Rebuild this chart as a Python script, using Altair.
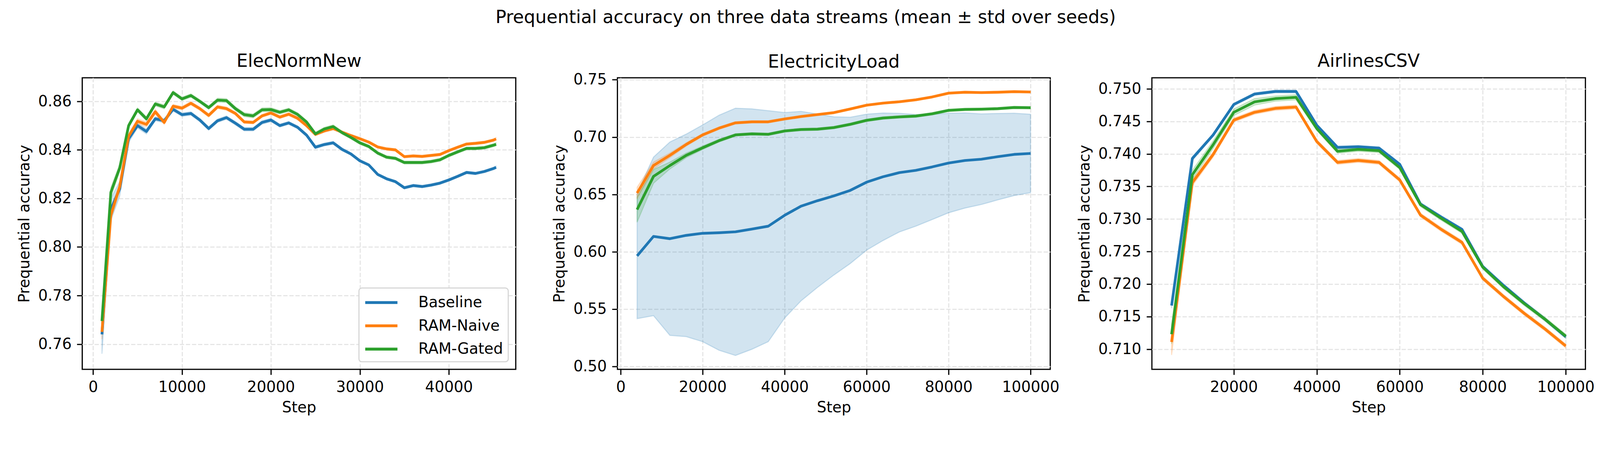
import altair as alt
import pandas as pd

methods = ["Baseline", "RAM-Naive", "RAM-Gated"]
colors = ["#1f77b4", "#ff7f0e", "#2ca02c"]
FONT = "DejaVu Sans"

# ---------------- ElecNormNew ----------------
elec_steps = [1000, 2000, 3000, 4000, 5000, 6000, 7000, 8000, 9000, 10000,
              11000, 12000, 13000, 14000, 15000, 16000, 17000, 18000, 19000, 20000,
              21000, 22000, 23000, 24000, 25000, 26000, 27000, 28000, 29000, 30000,
              31000, 32000, 33000, 34000, 35000, 36000, 37000, 38000, 39000, 40000,
              41000, 42000, 43000, 44000, 45000, 45312]
elec_base = [0.7640, 0.8155, 0.8240, 0.8446, 0.8500, 0.8476, 0.8528, 0.8520, 0.8567, 0.8545,
             0.8550, 0.8523, 0.8488, 0.8520, 0.8533, 0.8510, 0.8485, 0.8485, 0.8513, 0.8523,
             0.8500, 0.8511, 0.8493, 0.8461, 0.8411, 0.8422, 0.8429, 0.8402, 0.8383, 0.8355,
             0.8338, 0.8299, 0.8281, 0.8269, 0.8244, 0.8253, 0.8249, 0.8255, 0.8263, 0.8276,
             0.8291, 0.8307, 0.8303, 0.8311, 0.8323, 0.8328]
elec_naive = [0.7650, 0.8131, 0.8249, 0.8456, 0.8518, 0.8505, 0.8557, 0.8513, 0.8580, 0.8572,
              0.8592, 0.8570, 0.8542, 0.8577, 0.8570, 0.8550, 0.8515, 0.8513, 0.8540, 0.8552,
              0.8535, 0.8547, 0.8530, 0.8500, 0.8464, 0.8478, 0.8488, 0.8473, 0.8459, 0.8446,
              0.8432, 0.8412, 0.8404, 0.8400, 0.8372, 0.8375, 0.8373, 0.8377, 0.8381, 0.8397,
              0.8411, 0.8424, 0.8427, 0.8431, 0.8440, 0.8445]
elec_gated = [0.7695, 0.8225, 0.8326, 0.8500, 0.8565, 0.8528, 0.8589, 0.8577, 0.8636, 0.8610,
              0.8624, 0.8600, 0.8574, 0.8605, 0.8603, 0.8570, 0.8545, 0.8540, 0.8565, 0.8566,
              0.8555, 0.8565, 0.8546, 0.8515, 0.8466, 0.8486, 0.8496, 0.8471, 0.8451, 0.8429,
              0.8414, 0.8387, 0.8370, 0.8365, 0.8348, 0.8348, 0.8348, 0.8352, 0.8359, 0.8377,
              0.8392, 0.8406, 0.8406, 0.8409, 0.8419, 0.8423]
elec_base_sd = [0.0080, 0.0045, 0.0030, 0.0015, 0.0010, 0.0010, 0.0008, 0.0008, 0.0007, 0.0007,
                0.0007, 0.0007, 0.0007, 0.0007, 0.0007, 0.0007, 0.0007, 0.0007, 0.0007, 0.0007,
                0.0006, 0.0006, 0.0006, 0.0006, 0.0006, 0.0006, 0.0006, 0.0006, 0.0005, 0.0005,
                0.0005, 0.0005, 0.0005, 0.0005, 0.0005, 0.0005, 0.0005, 0.0005, 0.0005, 0.0005,
                0.0005, 0.0005, 0.0005, 0.0005, 0.0005, 0.0005]
elec_naive_sd = [0.0030, 0.0020, 0.0015, 0.0012, 0.0010, 0.0010, 0.0010, 0.0008, 0.0007, 0.0007,
                 0.0007, 0.0007, 0.0007, 0.0007, 0.0007, 0.0006, 0.0006, 0.0006, 0.0006, 0.0006,
                 0.0006, 0.0006, 0.0006, 0.0006, 0.0006, 0.0006, 0.0006, 0.0005, 0.0005, 0.0005,
                 0.0005, 0.0005, 0.0005, 0.0005, 0.0005, 0.0005, 0.0005, 0.0005, 0.0005, 0.0005,
                 0.0005, 0.0005, 0.0005, 0.0005, 0.0005, 0.0005]
elec_gated_sd = [0.0010, 0.0020, 0.0015, 0.0010, 0.0008, 0.0008, 0.0008, 0.0008, 0.0007, 0.0007,
                 0.0007, 0.0007, 0.0007, 0.0008, 0.0008, 0.0008, 0.0008, 0.0008, 0.0008, 0.0008,
                 0.0007, 0.0007, 0.0007, 0.0007, 0.0007, 0.0007, 0.0007, 0.0006, 0.0006, 0.0006,
                 0.0006, 0.0006, 0.0006, 0.0006, 0.0006, 0.0006, 0.0006, 0.0006, 0.0006, 0.0006,
                 0.0006, 0.0006, 0.0006, 0.0006, 0.0006, 0.0006]

# ---------------- ElectricityLoad ----------------
load_steps = [4000, 8000, 12000, 16000, 20000, 24000, 28000, 32000, 36000, 40000,
              44000, 48000, 52000, 56000, 60000, 64000, 68000, 72000, 76000, 80000,
              84000, 88000, 92000, 96000, 100000]
load_base = [0.5964, 0.6134, 0.6114, 0.6143, 0.6161, 0.6166, 0.6174, 0.6198, 0.6223, 0.6318,
             0.6398, 0.6445, 0.6487, 0.6535, 0.6607, 0.6654, 0.6690, 0.6710, 0.6740, 0.6774,
             0.6796, 0.6807, 0.6829, 0.6849, 0.6857]
load_naive = [0.6512, 0.6752, 0.6841, 0.6936, 0.7019, 0.7078, 0.7124, 0.7133, 0.7133, 0.7158,
              0.7179, 0.7196, 0.7213, 0.7245, 0.7278, 0.7296, 0.7308, 0.7325, 0.7350, 0.7383,
              0.7391, 0.7388, 0.7391, 0.7396, 0.7393]
load_gated = [0.6368, 0.6657, 0.6752, 0.6841, 0.6907, 0.6969, 0.7019, 0.7028, 0.7024, 0.7053,
              0.7066, 0.7069, 0.7083, 0.7111, 0.7146, 0.7166, 0.7176, 0.7183, 0.7203, 0.7233,
              0.7241, 0.7243, 0.7248, 0.7258, 0.7256]
load_base_sd = [0.0547, 0.0691, 0.0843, 0.0883, 0.0945, 0.1025, 0.1078, 0.1048, 0.1007, 0.0896,
                0.0826, 0.0756, 0.0690, 0.0638, 0.0593, 0.0556, 0.0517, 0.0487, 0.0459, 0.0434,
                0.0415, 0.0395, 0.0377, 0.0359, 0.0342]
load_naive_sd = [0.0050, 0.0030, 0.0020, 0.0015, 0.0012, 0.0010, 0.0010, 0.0008, 0.0008, 0.0008,
                 0.0008, 0.0008, 0.0008, 0.0008, 0.0008, 0.0008, 0.0008, 0.0008, 0.0008, 0.0008,
                 0.0008, 0.0008, 0.0008, 0.0008, 0.0008]
load_gated_sd = [0.0110, 0.0060, 0.0030, 0.0020, 0.0015, 0.0012, 0.0010, 0.0010, 0.0010, 0.0010,
                 0.0010, 0.0010, 0.0010, 0.0010, 0.0010, 0.0010, 0.0010, 0.0010, 0.0010, 0.0010,
                 0.0010, 0.0010, 0.0010, 0.0010, 0.0010]

# ---------------- AirlinesCSV ----------------
air_steps = [5000, 10000, 15000, 20000, 25000, 30000, 35000, 40000, 45000, 50000,
             55000, 60000, 65000, 70000, 75000, 80000, 85000, 90000, 95000, 100000]
air_base = [0.7167, 0.7393, 0.7429, 0.7476, 0.7492, 0.7496, 0.7496, 0.7444, 0.7410, 0.7411,
            0.7409, 0.7384, 0.7323, 0.7303, 0.7284, 0.7227, 0.7198, 0.7171, 0.7146, 0.7119]
air_naive = [0.7111, 0.7356, 0.7399, 0.7452, 0.7464, 0.7470, 0.7472, 0.7419, 0.7387, 0.7390,
             0.7387, 0.7360, 0.7306, 0.7284, 0.7264, 0.7209, 0.7181, 0.7155, 0.7131, 0.7105]
air_gated = [0.7123, 0.7368, 0.7414, 0.7464, 0.7480, 0.7485, 0.7487, 0.7439, 0.7404, 0.7407,
             0.7405, 0.7379, 0.7322, 0.7301, 0.7281, 0.7226, 0.7196, 0.7170, 0.7146, 0.7120]
air_base_sd = [0.0004, 0.0003, 0.0002, 0.0002, 0.0002, 0.0002, 0.0002, 0.0002, 0.0002, 0.0002,
               0.0002, 0.0002, 0.0002, 0.0002, 0.0002, 0.0002, 0.0002, 0.0002, 0.0002, 0.0002]
air_naive_sd = [0.0020, 0.0005, 0.0004, 0.0003, 0.0003, 0.0003, 0.0003, 0.0003, 0.0003, 0.0003,
                0.0003, 0.0003, 0.0003, 0.0003, 0.0003, 0.0003, 0.0003, 0.0003, 0.0003, 0.0003]
air_gated_sd = [0.0015, 0.0007, 0.0006, 0.0005, 0.0005, 0.0004, 0.0004, 0.0003, 0.0003, 0.0003,
                0.0003, 0.0003, 0.0003, 0.0003, 0.0003, 0.0003, 0.0003, 0.0003, 0.0003, 0.0003]


def make_df(steps, means, sds):
    rows = []
    for m, mu_list, sd_list in zip(methods, means, sds):
        for s, mu, sd in zip(steps, mu_list, sd_list):
            rows.append({"step": s, "mean": mu, "lo": mu - sd, "hi": mu + sd, "method": m})
    return pd.DataFrame(rows)


GRID = dict(grid=True, gridDash=[12, 5], gridColor="#e4e4e4", gridWidth=3,
            tickColor="black", tickSize=15, tickWidth=3.3, domain=False,
            labelFont=FONT, labelFontSize=42, labelColor="black",
            titleFont=FONT, titleFontSize=42, titleColor="black", titleFontWeight="normal",
            labelFlush=False, labelOverlap=False, labelPadding=15)


def panel(df, title, width, xdom, ydom, xticks, yticks, yfmt, show_legend, tdy):
    xs = alt.Scale(domain=xdom, nice=False, zero=False)
    ys = alt.Scale(domain=ydom, nice=False, zero=False)
    xax = alt.Axis(values=xticks, format="d", title="Step", titlePadding=15, **GRID)
    yax = alt.Axis(values=yticks, format=yfmt, title="Prequential accuracy",
                   titlePadding=16, **GRID)
    layers = []
    for i, (m, c) in enumerate(zip(methods, colors)):
        sub = df[df["method"] == m]
        if i == 0:
            enc = dict(x=alt.X("step:Q", scale=xs, axis=xax),
                       y=alt.Y("lo:Q", scale=ys, axis=yax), y2="hi:Q")
        else:
            enc = dict(x=alt.X("step:Q", scale=xs), y=alt.Y("lo:Q", scale=ys), y2="hi:Q")
        layers.append(
            alt.Chart(sub).mark_area(fill=c, stroke=c, fillOpacity=0.2, strokeOpacity=0.2,
                                     strokeWidth=3).encode(**enc)
        )
    if show_legend:
        leg = alt.Legend(title=None, orient="bottom-right", offset=21, labelFont=FONT,
                         labelFontSize=42, labelColor="black", labelLimit=600,
                         symbolType="M-2,0H2", symbolStrokeWidth=8, symbolSize=2025,
                         symbolOffset=22, padding=14, rowPadding=17, strokeColor="#d4d4d4",
                         fillColor="white", cornerRadius=8, labelOffset=77, symbolOpacity=1)
    else:
        leg = None
    line = alt.Chart(df).mark_line(strokeWidth=7.5, strokeJoin="round").encode(
        x=alt.X("step:Q", scale=xs),
        y=alt.Y("mean:Q", scale=ys),
        color=alt.Color("method:N", scale=alt.Scale(domain=methods, range=colors),
                        legend=leg, sort=methods),
    )
    layers.append(line)
    return alt.layer(*layers).properties(
        width=width, height=814,
        title=alt.TitleParams(title, font=FONT, fontSize=50, fontWeight="normal",
                              color="black", anchor="middle", offset=0, dy=tdy,
                              frame="group", baseline="alphabetic"),
    )


p1 = panel(make_df(elec_steps, [elec_base, elec_naive, elec_gated],
                   [elec_base_sd, elec_naive_sd, elec_gated_sd]),
           "ElecNormNew", 1211, [-1216, 47528], [0.7496, 0.8697],
           [0, 10000, 20000, 30000, 40000],
           [0.76, 0.78, 0.80, 0.82, 0.84, 0.86], ".2f", True, 19)
p2 = panel(make_df(load_steps, [load_base, load_naive, load_gated],
                   [load_base_sd, load_naive_sd, load_gated_sd]),
           "ElectricityLoad", 1209, [-800, 104800], [0.4975, 0.7517],
           [0, 20000, 40000, 60000, 80000, 100000],
           [0.50, 0.55, 0.60, 0.65, 0.70, 0.75], ".2f", False, 37)
p3 = panel(make_df(air_steps, [air_base, air_naive, air_gated],
                   [air_base_sd, air_naive_sd, air_gated_sd]),
           "AirlinesCSV", 1211, [250, 104750], [0.7069, 0.7517],
           [20000, 40000, 60000, 80000, 100000],
           [0.710, 0.715, 0.720, 0.725, 0.730, 0.735, 0.740, 0.745, 0.750], ".3f", False, 19)

chart = alt.hconcat(p1, p2, p3, spacing=284, bounds="flush").resolve_scale(
    color="independent", x="independent", y="independent",
).properties(
    title=alt.TitleParams("Prequential accuracy on three data streams (mean ± std over seeds)",
                          font=FONT, fontSize=50, fontWeight="normal", color="black",
                          anchor="middle", offset=30, baseline="alphabetic"),
    padding={"left": 36, "top": -35, "right": 5, "bottom": 5},
    background="white",
).configure_view(stroke="black", strokeWidth=3.3).configure_legend(strokeWidth=3)

chart.save("out.html", embed_options={"renderer": "svg", "actions": False})
